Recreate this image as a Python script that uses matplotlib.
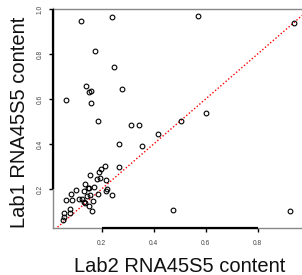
import matplotlib
matplotlib.use("Agg")
import matplotlib.pyplot as plt

lab2 = [0.120, 0.238, 0.569, 0.941, 0.174, 0.249, 0.138, 0.158, 0.150, 0.278,
        0.064, 0.159, 0.185, 0.311, 0.343, 0.506, 0.602, 0.417, 0.265, 0.356,
        0.213, 0.267, 0.197, 0.188, 0.154, 0.195, 0.182, 0.217, 0.135, 0.100,
        0.133, 0.152, 0.146, 0.170, 0.217, 0.220, 0.081, 0.145, 0.155, 0.185,
        0.240, 0.111, 0.124, 0.064, 0.085, 0.132, 0.137, 0.165, 0.150, 0.079,
        0.161, 0.475, 0.924, 0.056, 0.079, 0.056, 0.050]
lab1 = [0.947, 0.966, 0.969, 0.939, 0.813, 0.744, 0.658, 0.636, 0.630, 0.643,
        0.596, 0.584, 0.504, 0.484, 0.484, 0.504, 0.538, 0.446, 0.399, 0.391,
        0.304, 0.299, 0.289, 0.276, 0.264, 0.249, 0.244, 0.241, 0.224, 0.197,
        0.191, 0.203, 0.206, 0.207, 0.193, 0.200, 0.178, 0.170, 0.175, 0.176,
        0.172, 0.157, 0.156, 0.150, 0.151, 0.144, 0.138, 0.147, 0.123, 0.111,
        0.101, 0.108, 0.104, 0.092, 0.095, 0.076, 0.064]

x_ticks = [0.2, 0.4, 0.6, 0.8]
y_ticks = [0.2, 0.4, 0.6, 0.8, 1.0]
x_label = "Lab2 RNA45S5 content"
y_label = "Lab1 RNA45S5 content"

W, H = 302, 275
fig = plt.figure(figsize=(W / 100, H / 100), dpi=100)
left, right, bottom, top = 53.3, 306.0, 227.7, 8.5
ax = fig.add_axes([left / W, (H - bottom) / H, (right - left) / W, (bottom - top) / H])
xlim = (0.0138, 0.986)
ylim = (0.028, 1.002)
ax.set_xlim(*xlim)
ax.set_ylim(*ylim)

# identity line
ax.plot([0, 1.1], [0, 1.1], color="red", linestyle=(0, (1, 1.5)), linewidth=1.0, zorder=2)
ax.plot(lab2, lab1, linestyle="none", marker="o", markersize=3.4,
        markerfacecolor="none", markeredgecolor="black", markeredgewidth=0.8, zorder=3)

for s in ax.spines.values():
    s.set_color("#888888")
    s.set_linewidth(1.0)
ax.spines["right"].set_visible(False)

# R-style axis lines spanning tick range
ax.plot([x_ticks[0], x_ticks[-1]], [ylim[0], ylim[0]], color="black", lw=1.6,
        clip_on=False, zorder=4, solid_capstyle="butt")
ax.plot([xlim[0], xlim[0]], [y_ticks[0], y_ticks[-1]], color="black", lw=1.6,
        clip_on=False, zorder=4, solid_capstyle="butt")

ax.set_xticks(x_ticks)
ax.set_xticklabels([f"{v:.1f}" for v in x_ticks])
ax.set_yticks(y_ticks)
ax.set_yticklabels([f"{v:.1f}" for v in y_ticks], rotation=90, va="center")
ax.tick_params(axis="both", direction="out", length=3, width=1.0, color="black",
               labelsize=4.8, labelcolor="#444444")
ax.tick_params(axis="x", pad=6)
ax.tick_params(axis="y", pad=4)
for lab in ax.get_xticklabels() + ax.get_yticklabels():
    lab.set_fontfamily("Liberation Sans")

fig.text(180 / W, (H - 272.5) / H, x_label, ha="center", va="baseline",
         fontsize=14.5, family="Liberation Sans", color="#111111")
fig.text(25 / W, (H - 228.3) / H, y_label, ha="left", va="baseline", rotation=90,
         rotation_mode="anchor", fontsize=14.5, family="Liberation Sans", color="#111111")

fig.savefig("out.png", dpi=100)
